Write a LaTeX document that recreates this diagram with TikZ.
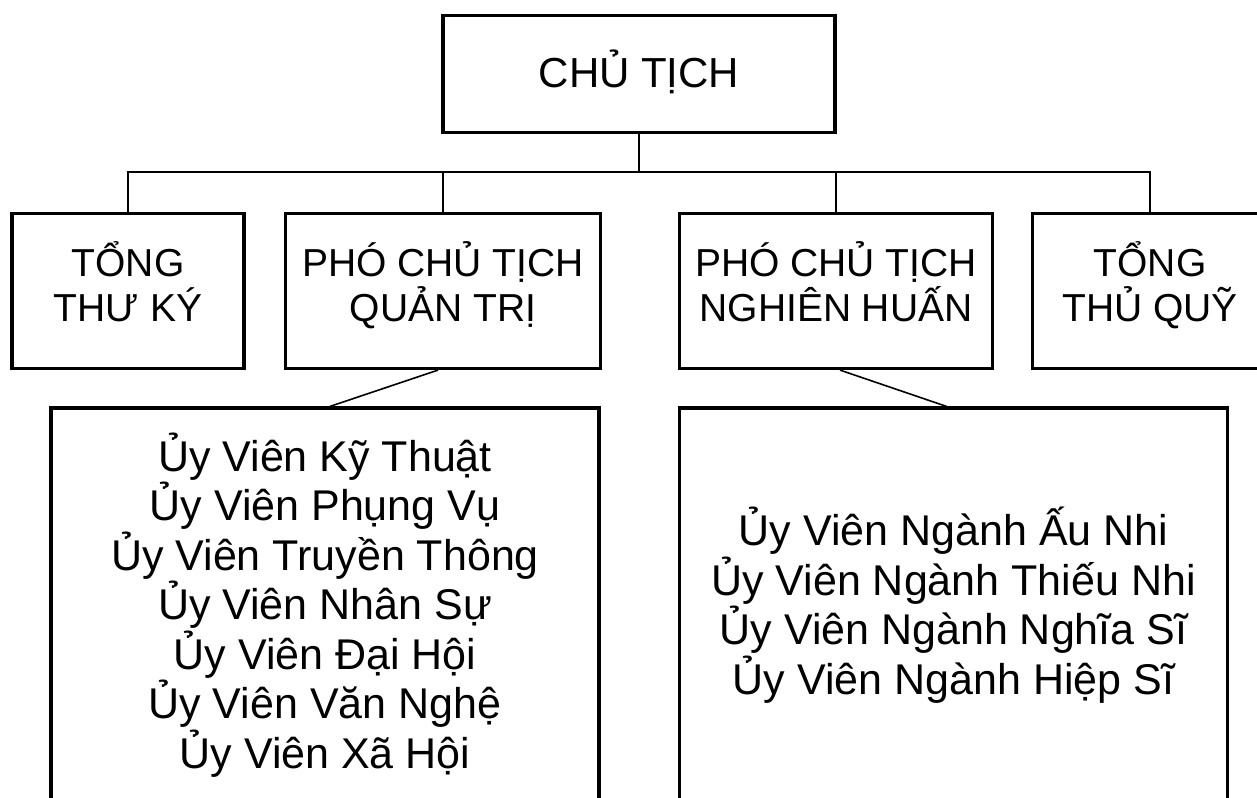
\documentclass[tikz,border=0pt]{standalone}
\usepackage{fontspec}
\setmainfont{Liberation Sans}
\usepackage{tikz}
\usetikzlibrary{positioning}

\begin{document}
\begin{tikzpicture}[x=1pt,y=-1pt,-,thick,
    box node/.style={rectangle,draw,line width=3.2pt,inner sep=0pt,align=center},
    top node/.style={box node,font=\fontsize{42}{48}\selectfont,
      execute at begin node={\rule{0pt}{44pt}},execute at end node={\rule[-16pt]{0pt}{16pt}}},
    mid node/.style={box node,minimum height=155,font=\fontsize{39}{45}\selectfont,
      execute at begin node={\rule{0pt}{44pt}},execute at end node={\rule[-19pt]{0pt}{19pt}}},
    low node/.style={box node,minimum height=404,font=\fontsize{43}{49.5}\selectfont,
      execute at begin node={\rule{0pt}{48pt}},execute at end node={\rule[-19pt]{0pt}{19pt}}},
    link/.style={line width=1.6pt}]
  \useasboundingbox (0,0) rectangle (1257,797);
  \clip (0,0) rectangle (1257,797);
  \begin{scope}
    \node[top node,minimum width=392,minimum height=117] (chu) at (639,74) {CHỦ TỊCH};
    \node[mid node,minimum width=232] (thuky) at (128,291) {TỔNG\\THƯ KÝ};
    \node[mid node,minimum width=315] (quantri) at (443,291) {PHÓ CHỦ TỊCH\\QUẢN TRỊ};
    \node[mid node,minimum width=313] (nghienhuan) at (836,291) {PHÓ CHỦ TỊCH\\NGHIÊN HUẤN};
    \node[mid node,minimum width=235] (thuquy) at (1150,291) {TỔNG\\THỦ QUỸ};
    \node[low node,minimum width=548] (uvquantri) at (325,610) {Ủy Viên Kỹ Thuật\\Ủy Viên Phụng Vụ\\Ủy Viên Truyền Thông\\Ủy Viên Nhân Sự\\Ủy Viên Đại Hội\\Ủy Viên Văn Nghệ\\Ủy Viên Xã Hội};
    \node[low node,minimum width=548] (uvnganh) at (953.5,610) {Ủy Viên Ngành Ấu Nhi\\Ủy Viên Ngành Thiếu Nhi\\Ủy Viên Ngành Nghĩa Sĩ\\Ủy Viên Ngành Hiệp Sĩ};
    % bus line
    \coordinate (bus) at (639,172);
    \path[link] (chu) edge (bus);
    \draw[link] (thuky.north) |- (bus);
    \draw[link] (quantri.north) |- (bus);
    \draw[link] (nghienhuan.north) |- (bus);
    \draw[link] (thuquy.north) |- (bus);
    \draw[link] ([xshift=-5]quantri.south) -- ([xshift=5]uvquantri.north);
    \draw[link] ([xshift=4]nghienhuan.south) -- ([xshift=-7]uvnganh.north);
  \end{scope}
\end{tikzpicture}
\end{document}
